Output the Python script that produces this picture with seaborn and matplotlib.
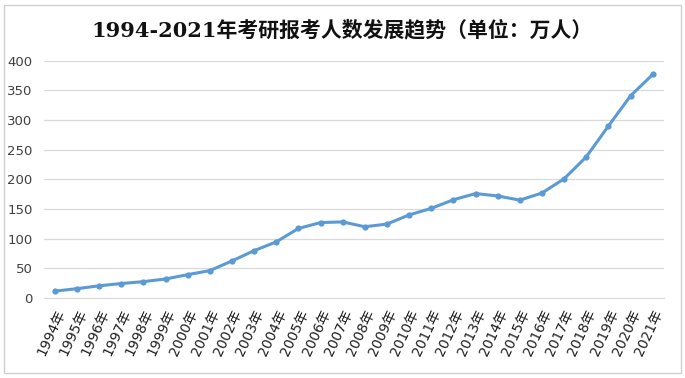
import matplotlib
matplotlib.use("Agg")
import matplotlib.pyplot as plt
import seaborn as sns
import pandas as pd
from matplotlib.patches import Rectangle

years = [f"{y}年" for y in range(1994, 2022)]
applicants = [11.4, 15.5, 20.4, 24.2, 27.4, 31.9, 39.2, 46.0, 62.4, 79.7,
              94.5, 117.2, 127.1, 128.2, 120.0, 124.6, 140.0, 151.1, 165.6, 176.0,
              172.0, 164.9, 177.0, 201.0, 238.0, 290.0, 341.0, 377.0]
yticks = [0, 50, 100, 150, 200, 250, 300, 350, 400]

df = pd.DataFrame({"year": years, "count": applicants})

sns.set_style("white")
plt.rcParams['font.family'] = ['DejaVu Sans', 'Noto Sans CJK SC']

fig = plt.figure(figsize=(6.85, 3.78), dpi=100)
ax = fig.add_axes([0.064, 0.212, 0.905, 0.627])

sns.lineplot(data=df, x="year", y="count", ax=ax, color="#5B9BD5",
             linewidth=2.2, marker="o", markersize=4.5, markeredgewidth=0, sort=False)

ax.set_xlim(-0.5, len(years) - 0.5)
ax.set_ylim(0, 400)
ax.set_yticks(yticks)
ax.set_yticklabels([str(v) for v in yticks], fontsize=9.5, color="#404040")
ax.set_xticks(range(len(years)))
ax.set_xticklabels(years, rotation=65, ha="right", rotation_mode="anchor",
                   fontsize=10, color="#202020",
                   family=['DejaVu Sans', 'Noto Sans CJK SC'])
ax.tick_params(axis="y", length=0, pad=8)
ax.tick_params(axis="x", length=0, pad=7)
ax.yaxis.grid(True, color="#D9D9D9", linewidth=0.9)
for s in ["top", "right", "left"]:
    ax.spines[s].set_visible(False)
ax.spines["bottom"].set_color("#D9D9D9")
ax.set_xlabel("")
ax.set_ylabel("")

fig.text(0.5, 0.92, "1994-2021年考研报考人数发展趋势（单位：万人）",
         ha="center", va="center", fontsize=15, fontweight="bold",
         family=['DejaVu Serif', 'Noto Sans CJK SC'], color="#111111")

fig.patches.append(Rectangle((0.006, 0.012), 0.988, 0.975, transform=fig.transFigure,
                             fill=False, edgecolor="#D0D0D0", linewidth=1))

fig.savefig("out.png", dpi=100)
